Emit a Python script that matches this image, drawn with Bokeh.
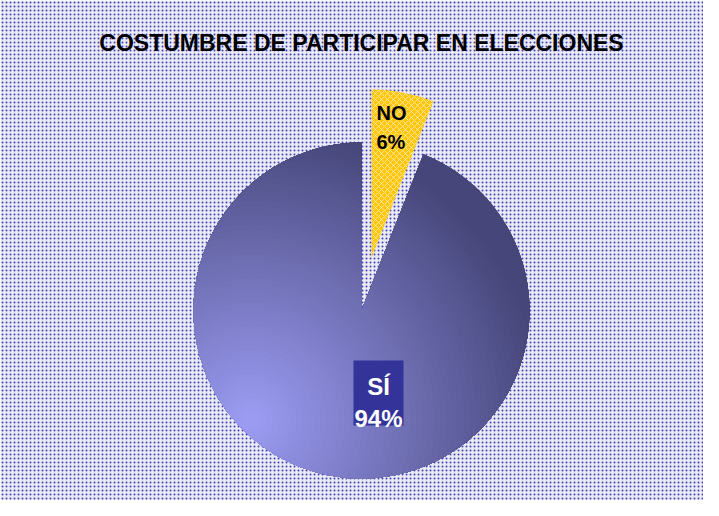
import numpy as np
from bokeh.plotting import figure
from bokeh.models import Range1d, BoxAnnotation, Label, ColumnDataSource
from bokeh.embed import file_html
from bokeh.resources import INLINE
from bokeh.core.properties import value

# ---------------- data ----------------
TITLE = "COSTUMBRE DE PARTICIPAR EN ELECCIONES"
categories = ["NO", "SÍ"]
values = [6, 94]
pct_labels = ["6%", "94%"]

# ---------------- layout ----------------
W, H = 703, 500


def Y(py):
    return H - py


CX, CY = 361, Y(310)
R = 168
EXPLODE = {"NO": 54, "SÍ": 0}

p = figure(width=W, height=H,
           x_range=Range1d(0, W), y_range=Range1d(0, H),
           output_backend="svg", toolbar_location=None, min_border=0)
p.axis.visible = False
p.grid.visible = False
p.outline_line_color = None
p.background_fill_color = "white"
p.border_fill_color = "white"

# dotted background
p.add_layout(BoxAnnotation(fill_color="#eaeaf6", fill_alpha=1.0, line_color=None,
                           hatch_pattern="dot", hatch_color="#4040b4",
                           hatch_scale=4, hatch_weight=2.0, level="underlay"))

# angles (clockwise from 12 o'clock)
total = float(sum(values))
starts, ends = [], []
acc = 0.0
for v in values:
    a0 = 90.0 - 360.0 * acc / total
    acc += v
    a1 = 90.0 - 360.0 * acc / total
    starts.append(a0)
    ends.append(a1)


def sector_poly(cx, cy, r, a0, a1, n=360):
    ang = np.radians(np.linspace(a0, a1, n))
    xs = [cx] + list(cx + r * np.cos(ang))
    ys = [cy] + list(cy + r * np.sin(ang))
    return list(zip(xs, ys))


def clip(subject, clip_poly):
    out = subject
    n = len(clip_poly)
    for i in range(n):
        a = clip_poly[i]
        b = clip_poly[(i + 1) % n]
        inp = out
        out = []
        if not inp:
            break

        def inside(q):
            return (b[0] - a[0]) * (q[1] - a[1]) - (b[1] - a[1]) * (q[0] - a[0]) >= 0

        def inter(p1, p2):
            x1, y1 = p1
            x2, y2 = p2
            x3, y3 = a
            x4, y4 = b
            den = (x1 - x2) * (y3 - y4) - (y1 - y2) * (x3 - x4)
            t = ((x1 - x3) * (y3 - y4) - (y1 - y3) * (x3 - x4)) / den
            return (x1 + t * (x2 - x1), y1 + t * (y2 - y1))

        s = inp[-1]
        for e in inp:
            if inside(e):
                if not inside(s):
                    out.append(inter(s, e))
                out.append(e)
            elif inside(s):
                out.append(inter(s, e))
            s = e
    return out


LIGHT = np.array([158, 158, 246])
DARK = np.array([70, 70, 122])
FX, FY = 250, Y(420)

for cat, v, a0, a1 in zip(categories, values, starts, ends):
    mid = np.radians((a0 + a1) / 2)
    ex = EXPLODE[cat]
    cx = CX + ex * np.cos(mid)
    cy = CY + ex * np.sin(mid)
    if cat == "NO":
        p.wedge(x=[cx], y=[cy], radius=R, start_angle=[np.radians(a0)],
                end_angle=[np.radians(a1)], direction="clock",
                fill_color="#ffc60a", line_color=None,
                hatch_pattern="diagonal_cross", hatch_color="white",
                hatch_alpha=0.55, hatch_scale=6, hatch_weight=1)
    else:
        p.wedge(x=[cx], y=[cy], radius=R, start_angle=[np.radians(a0)],
                end_angle=[np.radians(a1)], direction="clock",
                fill_color="#6c6cb1", line_color=None)
        subj = sector_poly(cx, cy, R, a0, a1)
        xs_all, ys_all, cols = [], [], []
        for rr in np.arange(340, 4, -6):
            t = min(rr / 300.0, 1.0)
            c = (LIGHT + (DARK - LIGHT) * t).astype(int)
            ang = np.linspace(0, 2 * np.pi, 90, endpoint=False)
            disc = list(zip(FX + rr * np.cos(ang), FY + rr * np.sin(ang)))
            poly = clip(subj, disc)
            if len(poly) < 3:
                continue
            xs_all.append([q[0] for q in poly])
            ys_all.append([q[1] for q in poly])
            cols.append("#%02x%02x%02x" % tuple(c))
        p.patches(xs="xs", ys="ys", fill_color="c", line_color=None,
                  source=ColumnDataSource(dict(xs=xs_all, ys=ys_all, c=cols)))

# title
p.add_layout(Label(x=361, y=Y(42), text=TITLE, text_align="center",
                   text_baseline="alphabetic", text_font="Liberation Sans",
                   text_font_style="bold", text_font_size="23px", text_color="black"))

# NO label
p.text(x=[376, 376], y=[Y(112), Y(141.5)], text=[categories[0], pct_labels[0]],
       text_align="left", text_baseline="alphabetic",
       text_font=value("Liberation Sans"), text_font_style="bold",
       text_font_size="20px", text_color="black")

# SÍ label with box
p.rect(x=[378], y=[Y(392.5)], width=50, height=65, fill_color="#333399", line_color=None)
p.text(x=[378, 378], y=[Y(386), Y(417.5)], text=[categories[1], pct_labels[1]],
       text_align="center", text_baseline="alphabetic",
       text_font=value("Liberation Sans"), text_font_style="bold",
       text_font_size="24px", text_color="white")

open("out.html", "w").write(file_html(p, INLINE))
